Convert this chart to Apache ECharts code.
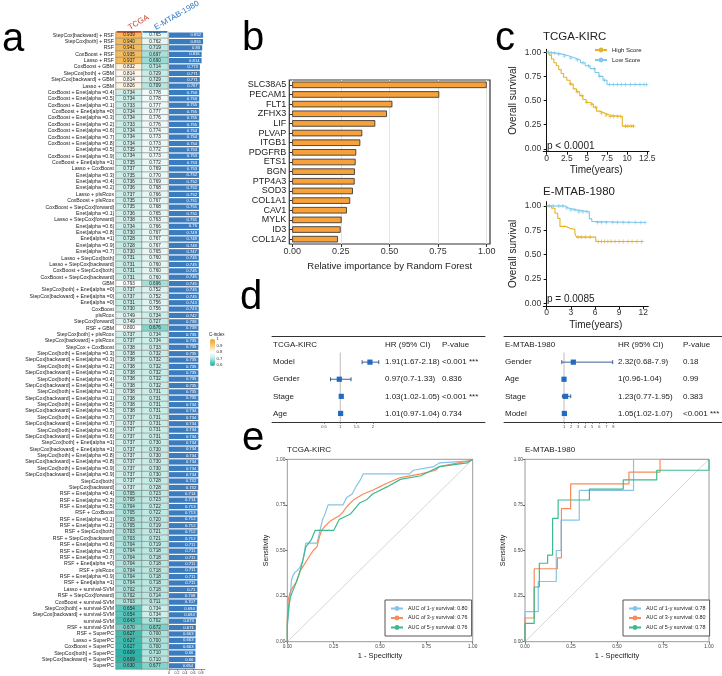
<!DOCTYPE html>
<html><head><meta charset="utf-8">
<script src="https://cdn.jsdelivr.net/npm/echarts@6/dist/echarts.min.js"></script>
<style>html,body{margin:0;padding:0;background:#fff}#c{width:722px;height:676px}</style>
</head><body><div id="c"></div>
<script>
const FONT = 'Liberation Sans, Arial, sans-serif';

// ---------- Panel a : C-index heatmap ----------
const models = [
'StepCox[backward] + RSF','StepCox[both] + RSF','RSF','CoxBoost + RSF','Lasso + RSF',
'CoxBoost + GBM','StepCox[both] + GBM','StepCox[backward] + GBM','Lasso + GBM',
'CoxBoost + Enet[alpha =0.4]','CoxBoost + Enet[alpha =0.5]','CoxBoost + Enet[alpha =0.1]','CoxBoost + Enet[alpha =0]',
'CoxBoost + Enet[alpha =0.3]','CoxBoost + Enet[alpha =0.2]','CoxBoost + Enet[alpha =0.6]','CoxBoost + Enet[alpha =0.7]',
'CoxBoost + Enet[alpha =0.8]','Enet[alpha =0.5]','CoxBoost + Enet[alpha =0.9]','CoxBoost + Enet[alpha =1]',
'Lasso + CoxBoost','Enet[alpha =0.3]','Enet[alpha =0.4]','Enet[alpha =0.2]','Lasso + plsRcox','CoxBoost + plsRcox',
'CoxBoost + StepCox[forward]','Enet[alpha =0.1]','Lasso + StepCox[forward]','Enet[alpha =0.6]','Enet[alpha =0.8]',
'Enet[alpha =1]','Enet[alpha =0.9]','Enet[alpha =0.7]','Lasso + StepCox[both]','Lasso + StepCox[backward]',
'CoxBoost + StepCox[both]','CoxBoost + StepCox[backward]','GBM','StepCox[both] + Enet[alpha =0]',
'StepCox[backward] + Enet[alpha =0]','Enet[alpha =0]','CoxBoost','plsRcox','StepCox[forward]','RSF + GBM',
'StepCox[both] + plsRcox','StepCox[backward] + plsRcox','StepCox + CoxBoost',
'StepCox[both] + Enet[alpha =0.3]','StepCox[backward] + Enet[alpha =0.3]','StepCox[both] + Enet[alpha =0.2]',
'StepCox[backward] + Enet[alpha =0.2]','StepCox[both] + Enet[alpha =0.4]','StepCox[backward] + Enet[alpha =0.4]',
'StepCox[both] + Enet[alpha =0.1]','StepCox[backward] + Enet[alpha =0.1]','StepCox[both] + Enet[alpha =0.5]',
'StepCox[backward] + Enet[alpha =0.5]','StepCox[both] + Enet[alpha =0.7]','StepCox[backward] + Enet[alpha =0.7]',
'StepCox[both] + Enet[alpha =0.6]','StepCox[backward] + Enet[alpha =0.6]','StepCox[both] + Enet[alpha =1]',
'StepCox[backward] + Enet[alpha =1]','StepCox[both] + Enet[alpha =0.8]','StepCox[backward] + Enet[alpha =0.8]',
'StepCox[both] + Enet[alpha =0.9]','StepCox[backward] + Enet[alpha =0.9]','StepCox[both]','StepCox[backward]',
'RSF + Enet[alpha =0.4]','RSF + Enet[alpha =0.3]','RSF + Enet[alpha =0.5]','RSF + CoxBoost','RSF + Enet[alpha =0.1]',
'RSF + Enet[alpha =0.2]','RSF + StepCox[both]','RSF + StepCox[backward]','RSF + Enet[alpha =0.6]','RSF + Enet[alpha =0.8]',
'RSF + Enet[alpha =0.7]','RSF + Enet[alpha =0]','RSF + plsRcox','RSF + Enet[alpha =0.9]','RSF + Enet[alpha =1]',
'Lasso + survival-SVM','RSF + StepCox[forward]','CoxBoost + survival-SVM','StepCox[both] + survival-SVM',
'StepCox[backward] + survival-SVM','survival-SVM','RSF + survival-SVM','RSF + SuperPC','Lasso + SuperPC',
'CoxBoost + SuperPC','StepCox[both] + SuperPC','StepCox[backward] + SuperPC','SuperPC'];
const tcgaC = [
0.939,0.940,0.941,0.935,0.937, 0.832,0.814,0.814,0.826,
0.734,0.734,0.733,0.734,0.734,0.733,0.734,0.734,0.734,0.735,0.734,0.735,
0.737,0.735,0.736,0.736,0.737,0.735,0.735,0.736,0.738,0.734,0.730,0.728,0.728,0.730,0.731,0.731,0.731,0.731,0.793,0.737,0.737,0.731,0.730,0.749,0.749,0.800,
0.737,0.737,0.738,0.738,0.738,0.738,0.738,0.738,0.738,0.738,0.738,0.738,0.738,0.737,0.737,0.737,0.737,0.737,0.737,0.737,0.737,0.737,0.737,0.737,0.737,
0.705,0.705,0.704,0.705,0.705,0.705,0.703,0.703,0.704,0.704,0.704,0.704,0.704,0.704,0.704,0.702,0.702,0.703,0.654,0.654,0.643,0.670,0.627,0.627,0.627,0.609,0.609,0.630];
const emtabC = [
0.765,0.762,0.719,0.697,0.690, 0.714,0.729,0.729,0.709,
0.778,0.778,0.777,0.777,0.776,0.776,0.774,0.773,0.773,0.772,0.773,0.772,
0.769,0.770,0.769,0.768,0.766,0.767,0.768,0.765,0.763,0.766,0.767,0.767,0.767,0.765,0.760,0.760,0.760,0.760,0.696,0.752,0.752,0.756,0.756,0.734,0.727,0.676,
0.734,0.734,0.733,0.732,0.732,0.732,0.732,0.732,0.732,0.731,0.731,0.731,0.731,0.731,0.731,0.731,0.731,0.730,0.730,0.730,0.730,0.730,0.730,0.728,0.728,
0.723,0.723,0.722,0.722,0.720,0.719,0.721,0.721,0.719,0.718,0.718,0.718,0.718,0.718,0.718,0.718,0.714,0.711,0.734,0.734,0.702,0.672,0.700,0.700,0.700,0.710,0.710,0.677];
const meanC = [
0.852,0.851,0.83,0.816,0.814, 0.773,0.771,0.771,0.767,
0.756,0.756,0.755,0.755,0.755,0.755,0.754,0.754,0.754,0.753,0.753,0.753,
0.753,0.752,0.752,0.752,0.752,0.751,0.751,0.751,0.751,0.75,0.749,0.748,0.748,0.747,0.745,0.745,0.745,0.745,0.745,0.745,0.745,0.744,0.743,0.742,0.738,0.738,
0.735,0.735,0.735,0.735,0.735,0.735,0.735,0.735,0.735,0.735,0.735,0.734,0.734,0.734,0.734,0.734,0.734,0.734,0.734,0.734,0.734,0.734,0.734,0.732,0.732,
0.714,0.714,0.713,0.713,0.712,0.712,0.712,0.712,0.711,0.711,0.711,0.711,0.711,0.711,0.711,0.71,0.708,0.707,0.694,0.694,0.673,0.671,0.663,0.663,0.663,0.66,0.66,0.654];
const cohorts = ['TCGA','E-MTAB-1980'];
const cohortColors = ['#C8442F','#2E78C4'];
const cIndexTicks = [1,0.9,0.8,0.7,0.6];
const meanTicks = [0,0.2,0.4,0.6,0.8];

// ---------- Panel b : RF importance ----------
const genes = ['SLC38A5','PECAM1','FLT1','ZFHX3','LIF','PLVAP','ITGB1','PDGFRB','ETS1','BGN','PTP4A3','SOD3','COL1A1','CAV1','MYLK','ID3','COL1A2'];
const importance = [1.0,0.756,0.515,0.487,0.427,0.360,0.350,0.329,0.326,0.322,0.321,0.312,0.298,0.281,0.254,0.249,0.235];
const importanceTicks = [0,0.25,0.5,0.75,1];

// ---------- Panel c : Kaplan-Meier ----------
const kmTcgaHigh = [[0,1],[0.3,0.97],[0.6,0.93],[0.9,0.89],[1.2,0.86],[1.5,0.82],[1.8,0.78],[2.1,0.74],[2.5,0.71],[2.9,0.67],[3.3,0.62],[3.7,0.59],[4.1,0.55],[4.5,0.51],[4.9,0.48],[5.4,0.46],[5.8,0.43],[6.2,0.39],[6.6,0.37],[7.2,0.35],[7.8,0.335],[9.4,0.235],[10.8,0.235]];
const kmTcgaLow = [[0,1],[0.5,0.99],[1.2,0.98],[2,0.96],[2.8,0.94],[3.5,0.92],[4.2,0.89],[4.8,0.86],[5.4,0.83],[6,0.79],[6.5,0.75],[7,0.71],[7.5,0.665],[12.4,0.665]];
const kmTcgaHighCensor = [3.0,3.8,4.4,5.0,5.6,6.1,6.8,7.4,7.9,8.3,8.8,9.2,9.8,10.1,10.5,10.8];
const kmTcgaLowCensor = [0.2,0.6,1.0,1.5,2.2,3.0,3.8,4.5,5.2,5.9,6.6,7.2,7.8,8.3,8.8,9.3,9.8,10.4,11.0,11.6,12.1,12.4];
const kmEmtabHigh = [[0,1],[0.62,0.976],[1.03,0.925],[1.37,0.873],[1.65,0.79],[2.4,0.77],[2.9,0.76],[3.5,0.72],[3.7,0.68],[6.1,0.635],[12,0.635]];
const kmEmtabLow = [[0,1],[2.3,0.98],[2.7,0.96],[3.7,0.94],[5.3,0.87],[5.6,0.84],[5.9,0.83],[12.2,0.83]];
const kmEmtabHighCensor = [3.9,4.3,4.8,5.4,6.4,6.8,7.2,7.6,8.0,8.5,9.0,9.5,10.1,10.6,11.2,11.8];
const kmEmtabLowCensor = [0.3,0.8,1.5,2.0,2.5,3.0,3.5,4.0,4.5,5.0,6.3,6.8,7.4,8.2,8.8,9.5,10.2,11.0,11.7,12.2];
const kmYTicks = [0,0.25,0.5,0.75,1];
const kmTcgaXTicks = [0,2.5,5,7.5,10,12.5];
const kmEmtabXTicks = [0,3,6,9,12];
const kmGroups = ['High Score','Low Score'];
const kmPvalues = ['p < 0.0001','p = 0.0085'];

// ---------- Panel d : forest plots ----------
const forestTcgaTitle = 'TCGA-KIRC';
const forestTcgaVars = ['Model','Gender','Stage','Age'];
const forestTcgaHR = [1.91,0.97,1.03,1.01];
const forestTcgaLo = [1.67,0.7,1.02,0.97];
const forestTcgaHi = [2.18,1.33,1.05,1.04];
const forestTcgaText = ['1.91(1.67-2.18)','0.97(0.7-1.33)','1.03(1.02-1.05)','1.01(0.97-1.04)'];
const forestTcgaP = ['<0.001 ***','0.836','<0.001 ***','0.734'];
const forestTcgaTicks = [0.5,1,1.5,2];
const forestEmtabTitle = 'E-MTAB-1980';
const forestEmtabVars = ['Gender','Age','Stage','Model'];
const forestEmtabHR = [2.32,1,1.23,1.05];
const forestEmtabLo = [0.68,0.96,0.77,1.02];
const forestEmtabHi = [7.9,1.04,1.95,1.07];
const forestEmtabText = ['2.32(0.68-7.9)','1(0.96-1.04)','1.23(0.77-1.95)','1.05(1.02-1.07)'];
const forestEmtabP = ['0.18','0.99','0.383','<0.001 ***'];
const forestEmtabTicks = [1,2,3,4,5,6,7,8];
const forestHeaders = ['HR (95% CI)','P-value'];

// ---------- Panel e : ROC ----------
const rocNamesTcga = ['AUC of 1-y survival: 0.80','AUC of 3-y survival: 0.76','AUC of 5-y survival: 0.76'];
const rocNamesEmtab = ['AUC of 1-y survival: 0.78','AUC of 3-y survival: 0.80','AUC of 5-y survival: 0.78'];
const rocTcga1 = [[0,0],[0,0.08],[0.01,0.19],[0.015,0.24],[0.023,0.34],[0.03,0.36],[0.04,0.38],[0.055,0.39],[0.07,0.41],[0.085,0.45],[0.1,0.54],[0.16,0.54],[0.17,0.58],[0.19,0.67],[0.2,0.69],[0.22,0.75],[0.3,0.75],[0.32,0.79],[0.35,0.81],[0.37,0.85],[0.39,0.88],[0.41,0.92],[0.66,0.92],[0.68,0.94],[0.79,0.96],[0.82,0.98],[0.97,0.99],[1,1]];
const rocTcga3 = [[0,0],[0,0.12],[0.005,0.23],[0.015,0.27],[0.03,0.30],[0.05,0.33],[0.07,0.39],[0.09,0.42],[0.12,0.47],[0.14,0.50],[0.16,0.52],[0.175,0.58],[0.185,0.61],[0.2,0.63],[0.23,0.66],[0.28,0.69],[0.3,0.71],[0.32,0.74],[0.36,0.78],[0.41,0.81],[0.46,0.83],[0.5,0.85],[0.54,0.87],[0.61,0.90],[0.72,0.92],[0.8,0.94],[0.82,0.96],[0.97,0.99],[1,1]];
const rocTcga5 = [[0,0],[0,0.1],[0.007,0.19],[0.015,0.24],[0.03,0.28],[0.05,0.33],[0.07,0.39],[0.085,0.45],[0.1,0.52],[0.13,0.56],[0.15,0.61],[0.25,0.61],[0.28,0.67],[0.34,0.70],[0.39,0.76],[0.43,0.78],[0.46,0.81],[0.54,0.85],[0.61,0.89],[0.72,0.91],[0.82,0.96],[0.97,0.98],[1,1]];
const rocEmtab1 = [[0,0],[0,0.165],[0.072,0.165],[0.072,0.33],[0.17,0.33],[0.17,0.50],[0.196,0.50],[0.196,0.667],[0.295,0.667],[0.295,0.83],[0.59,0.83],[0.59,1],[1,1]];
const rocEmtab3 = [[0,0],[0,0.13],[0.05,0.13],[0.05,0.40],[0.176,0.40],[0.176,0.46],[0.198,0.46],[0.198,0.73],[0.248,0.73],[0.248,0.865],[0.565,0.865],[0.565,0.93],[0.734,0.93],[0.734,1],[1,1]];
const rocEmtab5 = [[0,0],[0,0.10],[0.05,0.10],[0.05,0.30],[0.078,0.30],[0.078,0.43],[0.123,0.43],[0.123,0.475],[0.15,0.475],[0.15,0.676],[0.18,0.676],[0.18,0.777],[0.35,0.777],[0.35,0.837],[0.534,0.837],[0.534,0.887],[0.716,0.887],[0.716,0.94],[1,0.94],[1,1]];
const rocColors = ['#86C3E8','#F98A5A','#3DBA8D'];
const rocTicks = [0,0.25,0.5,0.75,1];

// ===================================================
const chart = echarts.init(document.getElementById('c'), null, {renderer:'canvas'});
const txtColor = '#222';
const heatData = [];
models.forEach((m,i)=>{ heatData.push([0,i,tcgaC[i]]); heatData.push([1,i,emtabC[i]]); });
function survAt(curve,t){ let s=1; for(const p of curve){ if(p[0]<=t) s=p[1]; } return s; }
const censorPts = (curve,times)=>times.map(t=>[t,survAt(curve,t)]);
const plusSym = 'path://M5,0L5,10M0,5L10,5';
const kmHighColor = '#E5B325', kmLowColor = '#80C8EA';

function forestRender(title, vars, hr, lo, hi, txt, pv, hrOff, pOff){
  return function(params, api){
    const i = params.dataIndex;
    const cs = params.coordSys;
    const yc = api.coord([1,i])[1];
    const rowH = api.size([0,1])[1];
    const t = (s,x)=>({type:'text', style:{text:s, x:x, y:yc, fill:txtColor, fontSize:8, fontFamily:FONT, align:'left', verticalAlign:'middle'}});
    const ch = [];
    if(i===0){
      ch.push(t(title, cs.x+1), t(forestHeaders[0], cs.x+hrOff), t(forestHeaders[1], cs.x+pOff));
      const x1 = api.coord([1,0])[0];
      ch.push({type:'line', shape:{x1:x1,y1:yc+rowH/2-1,x2:x1,y2:cs.y+cs.height}, style:{stroke:'#c8c8c8', lineWidth:1.2}});
    } else {
      const k = i-1;
      const xl = api.coord([lo[k],i])[0], xh = api.coord([hi[k],i])[0], xm = api.coord([hr[k],i])[0];
      ch.push(t(vars[k], cs.x+1), t(txt[k], cs.x+hrOff), t(pv[k], cs.x+pOff));
      ch.push({type:'line', shape:{x1:xl,y1:yc,x2:xh,y2:yc}, style:{stroke:'#2C4C86', lineWidth:0.9}});
      ch.push({type:'line', shape:{x1:xl,y1:yc-2,x2:xl,y2:yc+2}, style:{stroke:'#2C4C86', lineWidth:0.9}});
      ch.push({type:'line', shape:{x1:xh,y1:yc-2,x2:xh,y2:yc+2}, style:{stroke:'#2C4C86', lineWidth:0.9}});
      ch.push({type:'rect', shape:{x:xm-2.6,y:yc-2.6,width:5.2,height:5.2}, style:{fill:'#1F6CC2'}});
    }
    return {type:'group', children:ch};
  };
}

const kmAxisY = (gi, gap)=>({gridIndex:gi, type:'value', min:-0.03, max: gi===4?1.03:1.045,
  name:'Overall survival', nameLocation:'middle', nameGap:gap, nameTextStyle:{fontSize:10, color:txtColor},
  axisLine:{show:true, lineStyle:{color:'#111', width:1}}, axisTick:{show:true, length:3, customValues:kmYTicks, lineStyle:{color:'#111'}},
  axisLabel:{fontSize:8.5, color:'#333', margin:2, customValues:kmYTicks, formatter:v=>v.toFixed(2)}, splitLine:{show:false}});
const kmAxisX = (gi, min, max, ticks)=>({gridIndex:gi, type:'value', min:min, max:max,
  name:'Time(years)', nameLocation:'middle', nameGap:14, nameTextStyle:{fontSize:10, color:txtColor},
  axisLine:{show:true, onZero:false, lineStyle:{color:'#111', width:1}}, axisTick:{show:true, length:3, customValues:ticks, lineStyle:{color:'#111'}},
  axisLabel:{fontSize:8.5, color:'#333', margin:2, customValues:ticks, formatter:v=>String(v)}, splitLine:{show:false}});
const rocAxis = (gi, isY)=>({gridIndex:gi, type:'value', min:0, max:1, interval:0.25,
  name: isY?'Sensitivity':'1 - Specificity', nameLocation:'middle', nameGap: isY?18:10,
  nameTextStyle:{fontSize: isY?7:7.5, color:txtColor},
  axisLine:{show:false}, axisTick:{show:true, length:2, lineStyle:{color:'#666'}},
  axisLabel:{fontSize:4.8, color:'#444', margin:2, formatter:v=>v.toFixed(2)}, splitLine:{show:false}});
const forestX = (gi, min, max, ticks)=>({gridIndex:gi, type:'value', min:min, max:max, position:'bottom',
  axisLine:{show:true, onZero:false, lineStyle:{color:'#333', width:1}},
  axisTick:{show:true, length:2, customValues:ticks, lineStyle:{color:'#555', width:0.6}},
  axisLabel:{fontSize:4, color:'#444', margin:3, customValues:ticks, formatter:v=>String(v)}, splitLine:{show:false}});
const forestTop = (gi, min, max)=>({gridIndex:gi, type:'value', min:min, max:max, position:'top',
  axisLine:{show:true, onZero:false, lineStyle:{color:'#333', width:1}}, axisTick:{show:false}, axisLabel:{show:false}, splitLine:{show:false}});

const option = {
  animation:false,
  backgroundColor:'#fff',
  textStyle:{fontFamily:FONT},
  title:[
    {text:'TCGA-KIRC', left:543, top:31, padding:0, textStyle:{fontSize:11.5, fontWeight:'normal', color:txtColor, fontFamily:FONT}},
    {text:'E-MTAB-1980', left:543, top:186, padding:0, textStyle:{fontSize:11.5, fontWeight:'normal', color:txtColor, fontFamily:FONT}},
    {text:'TCGA-KIRC', left:287, top:446, padding:0, textStyle:{fontSize:8, fontWeight:'normal', color:txtColor, fontFamily:FONT}},
    {text:'E-MTAB-1980', left:525, top:446, padding:0, textStyle:{fontSize:8, fontWeight:'normal', color:txtColor, fontFamily:FONT}}
  ],
  visualMap:{type:'continuous', seriesIndex:0, min:0.6, max:1, left:210, top:339, itemWidth:5, itemHeight:27, padding:0,
    calculable:false, text:null, showLabel:false,
    inRange:{color:['#22B3A5','#55C5B9','#ABE2DB','#DDF3EF','#FFFFFF','#FDE7C4','#F8CD88','#F3B54C','#EFA62C']}},
  legend:[
    {data:kmGroups, orient:'vertical', left:594, top:47, itemWidth:12, itemHeight:6, itemGap:4, padding:0,
      textStyle:{fontSize:6, color:txtColor}},
    {data:rocNamesTcga, orient:'vertical', left:385, top:600, itemWidth:12, itemHeight:6, itemGap:4.5,
      padding:[6,4,6,5], borderColor:'#555', borderWidth:1, backgroundColor:'#fff', textStyle:{fontSize:5.4, color:txtColor}},
    {data:rocNamesEmtab, orient:'vertical', left:623, top:600, itemWidth:12, itemHeight:6, itemGap:4.5,
      padding:[6,4,6,5], borderColor:'#555', borderWidth:1, backgroundColor:'#fff', textStyle:{fontSize:5.4, color:txtColor}}
  ],
  grid:[
    {left:116, top:32, width:52, height:637},                 //0 heatmap
    {left:116, top:24, width:52, height:7},                   //1 header
    {left:169, top:32, width:36, height:637},                 //2 mean bars
    {left:289.3, top:80, width:200.7, height:164, show:true, borderColor:'#333', borderWidth:1.2}, //3 panel b
    {left:543.3, top:49.3, width:105.7, height:102.4},        //4 KM1
    {left:543.3, top:201.6, width:105, height:104.6},         //5 KM2
    {left:272, top:336.5, width:213, height:85.5},            //6 forest L
    {left:504, top:336.5, width:218, height:85.5},            //7 forest R
    {left:287.3, top:459.3, width:185.4, height:182.4, show:true, borderColor:'#9a9a9a', borderWidth:1}, //8 ROC L
    {left:525, top:459.3, width:184, height:182.4, show:true, borderColor:'#9a9a9a', borderWidth:1}      //9 ROC R
  ],
  xAxis:[
    {gridIndex:0, type:'category', data:cohorts, show:false},
    {gridIndex:1, type:'category', data:cohorts, position:'top', axisLine:{show:false}, axisTick:{show:false},
      axisLabel:{rotate:30, fontSize:8, margin:3, color:(v,i)=>cohortColors[i]}},
    {gridIndex:2, type:'value', min:0, max:0.9, interval:0.2, axisLine:{show:true, lineStyle:{color:'#666', width:0.7}},
      axisTick:{show:true, length:2, lineStyle:{color:'#666', width:0.6}}, axisLabel:{fontSize:3.6, color:'#333', margin:2}, splitLine:{show:false}},
    {gridIndex:3, type:'value', min:-0.015, max:1.017, name:'Relative importance by Random Forest', nameLocation:'middle', nameGap:17,
      nameTextStyle:{fontSize:9.5, color:txtColor}, axisLine:{show:false},
      axisTick:{show:true, length:3, customValues:importanceTicks, lineStyle:{color:'#333'}},
      axisLabel:{fontSize:9, color:'#333', margin:3, customValues:importanceTicks, formatter:v=>v.toFixed(2)},
      splitLine:{show:true, lineStyle:{color:'#e4e4e4', width:1}}},
    kmAxisX(4, -0.42, 12.72, kmTcgaXTicks),
    kmAxisX(5, -0.42, 12.62, kmEmtabXTicks),
    forestX(6, -1.095, 5.44, forestTcgaTicks),
    forestX(7, -7.51, 23.4, forestEmtabTicks),
    rocAxis(8, false),
    rocAxis(9, false),
    forestTop(6, -1.095, 5.44),
    forestTop(7, -7.51, 23.4)
  ],
  yAxis:[
    {gridIndex:0, type:'category', data:models, inverse:true, axisLine:{show:false}, axisTick:{show:false},
      axisLabel:{fontSize:5.2, color:txtColor, margin:2, interval:0}},
    {gridIndex:1, type:'value', min:0, max:1, show:false},
    {gridIndex:2, type:'category', data:models, inverse:true, show:false},
    {gridIndex:3, type:'category', data:genes, inverse:true, axisLine:{show:false},
      axisTick:{show:true, length:3, alignWithLabel:true, interval:0, lineStyle:{color:'#333'}},
      axisLabel:{fontSize:9, color:txtColor, margin:3, interval:0}},
    kmAxisY(4, 25),
    kmAxisY(5, 25),
    {gridIndex:6, type:'category', data:[forestTcgaTitle].concat(forestTcgaVars), inverse:true, show:false},
    {gridIndex:7, type:'category', data:[forestEmtabTitle].concat(forestEmtabVars), inverse:true, show:false},
    rocAxis(8, true),
    rocAxis(9, true)
  ],
  series:[
    {type:'heatmap', xAxisIndex:0, yAxisIndex:0, data:heatData,
      itemStyle:{borderColor:'#7d7d7d', borderWidth:0.6},
      label:{show:true, fontSize:4.6, color:'#222', formatter:p=>p.value[2].toFixed(3)}},
    {type:'bar', xAxisIndex:1, yAxisIndex:1, barWidth:24,
      data:cohorts.map((c,i)=>({value:1, itemStyle:{color:cohortColors[i]}}))},
    {type:'bar', xAxisIndex:2, yAxisIndex:2, data:meanC, barWidth:5.2, itemStyle:{color:'#3B7CBF'},
      label:{show:true, position:'insideRight', distance:2, fontSize:4.2, color:'#fff', formatter:p=>String(p.value)}},
    {type:'bar', xAxisIndex:3, yAxisIndex:3, data:importance, barWidth:6.5,
      itemStyle:{color:'#F7A13A', borderColor:'#2a2a2a', borderWidth:0.8}},
    // KM TCGA
    {type:'line', name:'High Score', xAxisIndex:4, yAxisIndex:4, data:kmTcgaHigh, step:'end', symbol:'none', lineStyle:{color:kmHighColor, width:1.1}, itemStyle:{color:kmHighColor}},
    {type:'line', name:'Low Score', xAxisIndex:4, yAxisIndex:4, data:kmTcgaLow, step:'end', symbol:'none', lineStyle:{color:kmLowColor, width:1.1}, itemStyle:{color:kmLowColor}},
    {type:'scatter', xAxisIndex:4, yAxisIndex:4, data:censorPts(kmTcgaHigh,kmTcgaHighCensor), symbol:plusSym, symbolSize:4, itemStyle:{color:'none', borderColor:kmHighColor, borderWidth:0.9}},
    {type:'scatter', xAxisIndex:4, yAxisIndex:4, data:censorPts(kmTcgaLow,kmTcgaLowCensor), symbol:plusSym, symbolSize:4, itemStyle:{color:'none', borderColor:kmLowColor, borderWidth:0.9}},
    // KM E-MTAB
    {type:'line', name:'High Score', xAxisIndex:5, yAxisIndex:5, data:kmEmtabHigh, step:'end', symbol:'none', lineStyle:{color:kmHighColor, width:1.1}, itemStyle:{color:kmHighColor}},
    {type:'line', name:'Low Score', xAxisIndex:5, yAxisIndex:5, data:kmEmtabLow, step:'end', symbol:'none', lineStyle:{color:kmLowColor, width:1.1}, itemStyle:{color:kmLowColor}},
    {type:'scatter', xAxisIndex:5, yAxisIndex:5, data:censorPts(kmEmtabHigh,kmEmtabHighCensor), symbol:plusSym, symbolSize:4, itemStyle:{color:'none', borderColor:kmHighColor, borderWidth:0.9}},
    {type:'scatter', xAxisIndex:5, yAxisIndex:5, data:censorPts(kmEmtabLow,kmEmtabLowCensor), symbol:plusSym, symbolSize:4, itemStyle:{color:'none', borderColor:kmLowColor, borderWidth:0.9}},
    // Forest
    {type:'custom', xAxisIndex:6, yAxisIndex:6, data:[[1,0]].concat(forestTcgaHR.map((h,i)=>[h,i+1])),
      renderItem:forestRender(forestTcgaTitle, forestTcgaVars, forestTcgaHR, forestTcgaLo, forestTcgaHi, forestTcgaText, forestTcgaP, 113, 170)},
    {type:'custom', xAxisIndex:7, yAxisIndex:7, data:[[1,0]].concat(forestEmtabHR.map((h,i)=>[h,i+1])),
      renderItem:forestRender(forestEmtabTitle, forestEmtabVars, forestEmtabHR, forestEmtabLo, forestEmtabHi, forestEmtabText, forestEmtabP, 114, 179)},
    // ROC
    {type:'line', xAxisIndex:8, yAxisIndex:8, data:[[0,0],[1,1]], symbol:'none', silent:true, lineStyle:{color:'#c4c4c4', width:0.7}},
    {type:'line', name:rocNamesTcga[0], xAxisIndex:8, yAxisIndex:8, data:rocTcga1, symbol:'none', lineStyle:{color:rocColors[0], width:1.2}, itemStyle:{color:rocColors[0]}},
    {type:'line', name:rocNamesTcga[1], xAxisIndex:8, yAxisIndex:8, data:rocTcga3, symbol:'none', lineStyle:{color:rocColors[1], width:1.2}, itemStyle:{color:rocColors[1]}},
    {type:'line', name:rocNamesTcga[2], xAxisIndex:8, yAxisIndex:8, data:rocTcga5, symbol:'none', lineStyle:{color:rocColors[2], width:1.2}, itemStyle:{color:rocColors[2]}},
    {type:'line', xAxisIndex:9, yAxisIndex:9, data:[[0,0],[1,1]], symbol:'none', silent:true, lineStyle:{color:'#c4c4c4', width:0.7}},
    {type:'line', name:rocNamesEmtab[0], xAxisIndex:9, yAxisIndex:9, data:rocEmtab1, symbol:'none', lineStyle:{color:rocColors[0], width:1.2}, itemStyle:{color:rocColors[0]}},
    {type:'line', name:rocNamesEmtab[1], xAxisIndex:9, yAxisIndex:9, data:rocEmtab3, symbol:'none', lineStyle:{color:rocColors[1], width:1.2}, itemStyle:{color:rocColors[1]}},
    {type:'line', name:rocNamesEmtab[2], xAxisIndex:9, yAxisIndex:9, data:rocEmtab5, symbol:'none', lineStyle:{color:rocColors[2], width:1.2}, itemStyle:{color:rocColors[2]}}
  ],
  graphic:[
    {type:'text', left:2, top:20, style:{text:'a', fontSize:40, fontFamily:FONT, fill:'#000'}},
    {type:'text', left:242, top:19, style:{text:'b', fontSize:40, fontFamily:FONT, fill:'#000'}},
    {type:'text', left:495, top:19, style:{text:'c', fontSize:40, fontFamily:FONT, fill:'#000'}},
    {type:'text', left:240, top:278, style:{text:'d', fontSize:40, fontFamily:FONT, fill:'#000'}},
    {type:'text', left:242, top:419, style:{text:'e', fontSize:40, fontFamily:FONT, fill:'#000'}},
    {type:'text', left:547, top:141, style:{text:kmPvalues[0], fontSize:10, fontFamily:FONT, fill:txtColor}},
    {type:'text', left:547, top:294, style:{text:kmPvalues[1], fontSize:10, fontFamily:FONT, fill:txtColor}},
    {type:'text', left:209, top:332, style:{text:'C-index', fontSize:4.5, fontFamily:FONT, fill:txtColor}}
  ].concat(cIndexTicks.map(v=>({type:'text', left:216.5, top:339 + (1-v)/0.4*26 - 2, style:{text:String(v), fontSize:4.3, fontFamily:FONT, fill:'#333'}})))
};
chart.setOption(option);
</script>
</body></html>
